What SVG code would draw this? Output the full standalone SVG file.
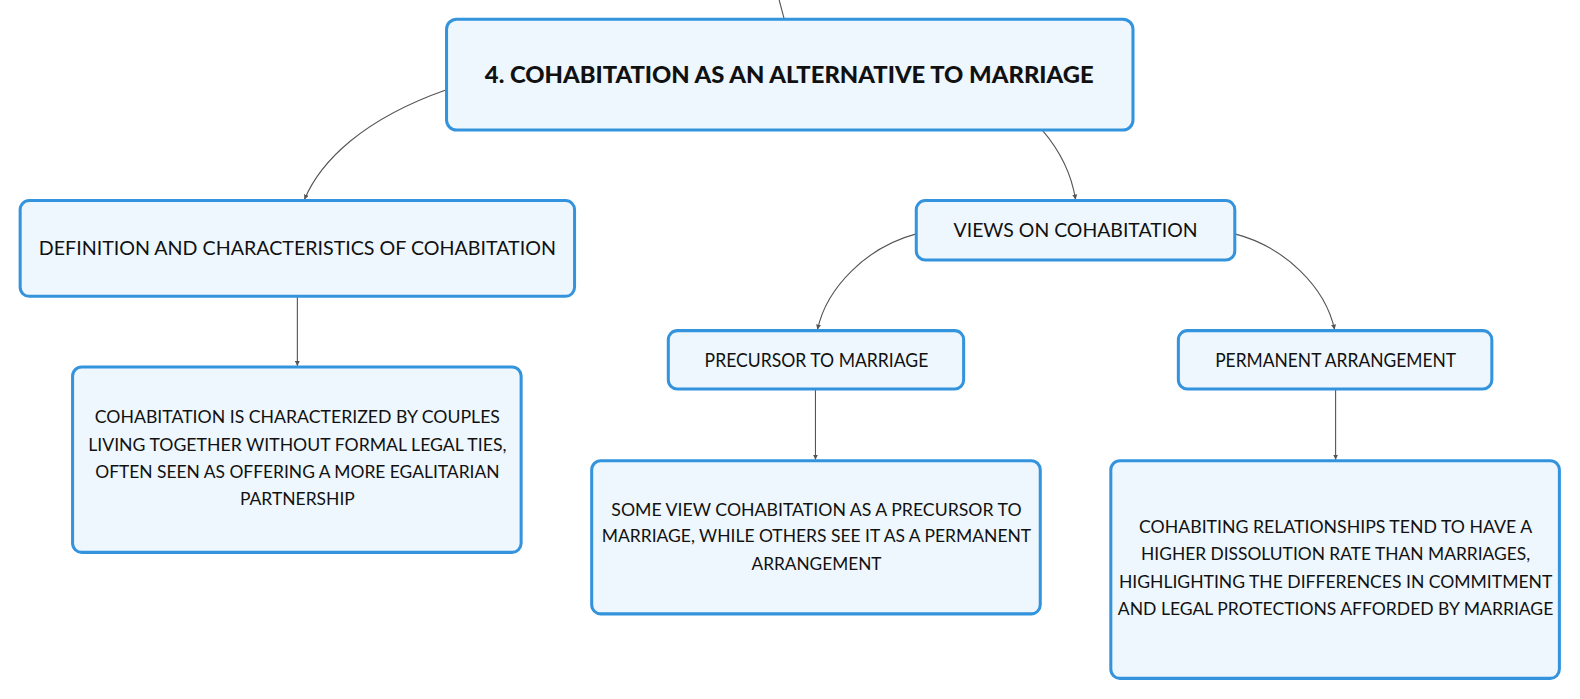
<svg xmlns="http://www.w3.org/2000/svg" width="1580" height="699" viewBox="0 0 1580 699">
<defs>
<marker id="arr" viewBox="0 0 10 10" refX="10" refY="5" markerWidth="5" markerHeight="5" orient="auto" markerUnits="userSpaceOnUse">
<path d="M0,0 L10,5 L0,10 z" fill="#555"/>
</marker>
<style>
.node rect{fill:#eef7fd;stroke:#3393dd;stroke-width:3}
.node text{font-family:Lato,"Noto Sans",sans-serif;font-size:18px;fill:#111;text-anchor:middle}
.node text.lbl{font-size:19.5px}
.node text.title{font-weight:900;font-size:22px}
#connectors path{fill:none;stroke:#555;stroke-width:1.1}
#connectors path.a{marker-end:url(#arr)}
</style>
</defs>
<rect width="1580" height="699" fill="#fff"/>
<g transform="scale(1.008)">
<g id="connectors">
<path d="M773,0 L778,19"/>
<path class="a" d="M443,89 C360,118 318,160 302,198"/>
<path class="a" d="M1034,129 C1052,150 1063,172 1067,198"/>
<path class="a" d="M295,294 L295,363"/>
<path class="a" d="M909,232 C860,245 820,285 811,327"/>
<path class="a" d="M1225,232 C1275,245 1315,285 1324,327"/>
<path class="a" d="M809,386 L809,456"/>
<path class="a" d="M1325,386 L1325,456"/>
</g>
<g id="root" class="node">
<rect x="443" y="19" width="681" height="110" rx="10"/>
<text class="title" x="783" y="82" textLength="604" lengthAdjust="spacingAndGlyphs">4. COHABITATION AS AN ALTERNATIVE TO MARRIAGE</text>
</g>
<g id="definition" class="node">
<rect x="20" y="199" width="550" height="95" rx="9"/>
<text class="lbl" x="295" y="253" textLength="513" lengthAdjust="spacingAndGlyphs">DEFINITION AND CHARACTERISTICS OF COHABITATION</text>
</g>
<g id="definition-detail" class="node">
<rect x="72" y="364" width="445" height="184" rx="9"/>
<text x="295" y="420" textLength="402" lengthAdjust="spacingAndGlyphs">COHABITATION IS CHARACTERIZED BY COUPLES</text>
<text x="295" y="447" textLength="415" lengthAdjust="spacingAndGlyphs">LIVING TOGETHER WITHOUT FORMAL LEGAL TIES,</text>
<text x="295" y="474" textLength="401" lengthAdjust="spacingAndGlyphs">OFTEN SEEN AS OFFERING A MORE EGALITARIAN</text>
<text x="295" y="501" textLength="114" lengthAdjust="spacingAndGlyphs">PARTNERSHIP</text>
</g>
<g id="views" class="node">
<rect x="909" y="199" width="316" height="59" rx="9"/>
<text class="lbl" x="1067" y="235" textLength="242" lengthAdjust="spacingAndGlyphs">VIEWS ON COHABITATION</text>
</g>
<g id="precursor" class="node">
<rect x="663" y="328" width="293" height="58" rx="9"/>
<text class="lbl" x="810" y="364" textLength="222" lengthAdjust="spacingAndGlyphs">PRECURSOR TO MARRIAGE</text>
</g>
<g id="permanent" class="node">
<rect x="1169" y="328" width="311" height="58" rx="9"/>
<text class="lbl" x="1325" y="364" textLength="239" lengthAdjust="spacingAndGlyphs">PERMANENT ARRANGEMENT</text>
</g>
<g id="precursor-detail" class="node">
<rect x="587" y="457" width="445" height="152" rx="9"/>
<text x="810" y="512" textLength="407" lengthAdjust="spacingAndGlyphs">SOME VIEW COHABITATION AS A PRECURSOR TO</text>
<text x="810" y="538" textLength="426" lengthAdjust="spacingAndGlyphs">MARRIAGE, WHILE OTHERS SEE IT AS A PERMANENT</text>
<text x="810" y="565" textLength="129" lengthAdjust="spacingAndGlyphs">ARRANGEMENT</text>
</g>
<g id="permanent-detail" class="node">
<rect x="1102" y="457" width="445" height="216" rx="9"/>
<text x="1325" y="529" textLength="390" lengthAdjust="spacingAndGlyphs">COHABITING RELATIONSHIPS TEND TO HAVE A</text>
<text x="1325" y="556" textLength="386" lengthAdjust="spacingAndGlyphs">HIGHER DISSOLUTION RATE THAN MARRIAGES,</text>
<text x="1325" y="583" textLength="430" lengthAdjust="spacingAndGlyphs">HIGHLIGHTING THE DIFFERENCES IN COMMITMENT</text>
<text x="1325" y="610" textLength="432" lengthAdjust="spacingAndGlyphs">AND LEGAL PROTECTIONS AFFORDED BY MARRIAGE</text>
</g>
</g>
</svg>
